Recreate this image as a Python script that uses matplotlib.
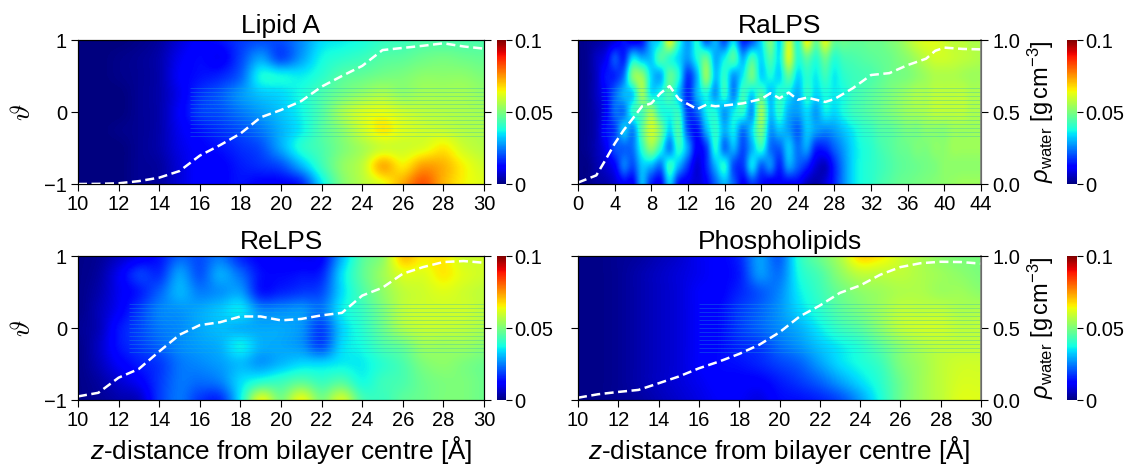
import matplotlib
matplotlib.use("Agg")
import matplotlib.pyplot as plt
import numpy as np

plt.rcParams['font.family'] = ['Liberation Sans', 'DejaVu Sans']
plt.rcParams['mathtext.fontset'] = 'custom'
plt.rcParams['mathtext.rm'] = 'Liberation Sans'
plt.rcParams['mathtext.it'] = 'Liberation Sans:italic'
plt.rcParams['mathtext.fallback'] = 'cm'

# water density maps (rows run theta = 1 down to -1 in steps of 0.25, one column per angstrom)
lipid_a = [
    [0, 0, 0, .001, .003, .008, .012, .014, .018, .020, .020, .026, .034, .036, .038, .041, .042, .044, .044, .044, .044],
    [0, 0, .001, .002, .004, .010, .013, .011, .019, .028, .020, .028, .037, .040, .042, .045, .046, .048, .049, .048, .047],
    [0, 0, .001, .002, .004, .011, .014, .016, .022, .037, .037, .036, .040, .045, .047, .049, .050, .052, .052, .052, .050],
    [0, 0, 0, .002, .004, .010, .017, .021, .027, .032, .034, .038, .044, .049, .053, .056, .053, .055, .055, .055, .053],
    [0, 0, 0, .002, .004, .011, .018, .020, .024, .028, .032, .037, .045, .055, .061, .063, .060, .058, .057, .056, .055],
    [0, 0, .001, .002, .004, .010, .014, .017, .020, .024, .030, .036, .045, .052, .060, .066, .062, .060, .059, .057, .056],
    [0, 0, 0, .002, .004, .009, .012, .014, .017, .020, .029, .039, .044, .050, .055, .060, .060, .062, .066, .060, .057],
    [0, 0, 0, .002, .003, .008, .012, .012, .015, .017, .020, .030, .042, .052, .058, .072, .066, .074, .072, .065, .060],
    [0, 0, 0, .002, .003, .008, .012, .012, .014, .012, .012, .016, .035, .050, .057, .063, .073, .082, .072, .065, .062],
]
ra_lps = [
    [.001, .002, .003, .005, .008, .014, .010, .014, .030, .036, .062, .040, .028, .038, .022, .030, .020, .034, .016, .020, .034, .050, .034, .060, .040, .064, .048, .062, .048, .048, .047, .047, .048, .048, .050, .052, .056, .060, .062, .062, .060, .058, .058, .056, .056],
    [.001, .002, .006, .010, .020, .016, .034, .030, .032, .044, .040, .034, .028, .038, .046, .030, .036, .044, .030, .042, .034, .044, .036, .060, .040, .046, .040, .048, .040, .043, .044, .045, .046, .047, .048, .050, .052, .055, .058, .060, .060, .059, .058, .057, .056],
    [.001, .002, .006, .014, .016, .024, .050, .052, .034, .030, .046, .038, .018, .030, .052, .032, .040, .028, .036, .048, .034, .038, .034, .046, .034, .040, .036, .042, .036, .040, .042, .043, .044, .046, .048, .049, .050, .052, .054, .056, .056, .056, .055, .054, .054],
    [.001, .002, .006, .012, .022, .030, .034, .054, .036, .038, .044, .032, .016, .030, .038, .028, .040, .026, .042, .034, .044, .032, .040, .036, .030, .040, .034, .038, .036, .038, .042, .044, .046, .048, .050, .052, .054, .056, .056, .058, .058, .058, .058, .056, .056],
    [.001, .002, .005, .011, .022, .024, .040, .044, .054, .040, .038, .040, .018, .022, .036, .038, .028, .036, .040, .028, .054, .032, .040, .030, .028, .034, .028, .036, .034, .038, .042, .044, .046, .048, .050, .052, .054, .055, .056, .058, .058, .058, .058, .056, .056],
    [.001, .002, .005, .013, .018, .032, .026, .046, .060, .050, .034, .044, .020, .014, .030, .040, .030, .036, .024, .034, .050, .028, .032, .028, .022, .032, .028, .026, .028, .032, .036, .040, .042, .045, .046, .048, .050, .050, .052, .052, .052, .054, .054, .054, .054],
    [.001, .002, .005, .010, .020, .022, .024, .040, .052, .040, .026, .040, .028, .012, .018, .038, .024, .030, .020, .030, .040, .024, .022, .032, .024, .028, .016, .016, .022, .028, .034, .038, .040, .043, .045, .047, .048, .050, .050, .052, .052, .054, .054, .054, .054],
    [.001, .001, .004, .007, .012, .024, .020, .032, .030, .024, .040, .030, .018, .008, .016, .030, .038, .020, .018, .034, .022, .026, .016, .028, .022, .016, .008, .006, .016, .026, .034, .038, .040, .042, .044, .046, .047, .048, .049, .050, .052, .052, .052, .052, .052],
    [.001, .001, .003, .004, .007, .012, .012, .030, .016, .012, .032, .014, .010, .008, .012, .022, .030, .022, .012, .018, .014, .010, .012, .012, .012, .006, .004, .008, .016, .026, .034, .038, .040, .043, .045, .047, .048, .049, .050, .051, .052, .053, .054, .054, .054],
]
re_lps = [
    [.001, .002, .006, .010, .014, .022, .020, .024, .016, .012, .012, .010, .012, .030, .045, .052, .070, .066, .066, .060, .060],
    [.001, .003, .010, .018, .017, .028, .021, .029, .023, .014, .013, .014, .016, .034, .046, .054, .062, .062, .066, .062, .060],
    [.001, .004, .010, .015, .022, .030, .025, .027, .028, .015, .016, .018, .020, .034, .044, .052, .058, .060, .062, .060, .058],
    [.001, .005, .011, .018, .025, .027, .029, .032, .035, .026, .026, .027, .024, .036, .042, .050, .058, .060, .060, .060, .058],
    [.002, .005, .014, .019, .024, .026, .029, .031, .030, .029, .029, .027, .019, .033, .040, .048, .056, .059, .059, .058, .056],
    [.001, .006, .014, .018, .022, .026, .028, .030, .036, .030, .029, .027, .020, .034, .038, .044, .048, .054, .054, .054, .052],
    [.001, .005, .011, .015, .018, .024, .026, .028, .031, .028, .031, .034, .034, .036, .036, .040, .044, .050, .052, .050, .048],
    [.001, .003, .007, .011, .018, .024, .023, .025, .034, .040, .042, .046, .042, .045, .038, .042, .044, .048, .050, .050, .048],
    [.001, .002, .004, .006, .018, .024, .018, .017, .036, .062, .050, .063, .050, .060, .044, .042, .046, .048, .050, .050, .048],
]
phospholipids = [
    [.001, .001, .002, .003, .005, .007, .010, .012, .016, .028, .022, .040, .048, .056, .068, .066, .060, .056, .052, .050, .050],
    [.001, .001, .002, .004, .006, .008, .010, .012, .015, .027, .024, .038, .044, .052, .058, .058, .058, .056, .054, .052, .050],
    [.001, .001, .002, .004, .006, .008, .011, .012, .016, .021, .026, .036, .042, .048, .052, .054, .056, .056, .054, .054, .052],
    [.001, .001, .002, .004, .006, .008, .011, .013, .018, .022, .027, .034, .040, .046, .050, .054, .058, .058, .058, .056, .056],
    [.001, .001, .002, .004, .006, .008, .011, .013, .018, .022, .026, .030, .036, .042, .046, .052, .058, .060, .060, .058, .058],
    [.001, .001, .002, .004, .006, .008, .011, .013, .016, .018, .023, .027, .032, .036, .040, .046, .052, .056, .058, .058, .058],
    [.001, .001, .002, .004, .006, .008, .011, .013, .014, .016, .019, .022, .028, .034, .038, .042, .050, .054, .058, .060, .060],
    [.001, .001, .002, .004, .006, .008, .010, .012, .012, .012, .015, .018, .022, .028, .034, .040, .048, .054, .058, .061, .061],
    [.001, .001, .002, .003, .005, .007, .009, .011, .011, .009, .013, .014, .016, .020, .028, .038, .048, .054, .058, .062, .062],
]

# dashed density profiles
z_short = list(range(10, 31))
lipid_a_rho = [0, .001, .005, .02, .044, .09, .197, .27, .35, .463, .514, .576, .676, .75, .82, .93, .945, .96, .977, .955, .94]
ra_z = [0, 2, 3, 4, 5, 6, 7, 8, 9, 10, 11, 12, 13, 14, 15, 16, 18, 20, 21, 22, 23, 24, 25, 26, 27, 28, 30, 32, 34, 36, 38, 39, 40, 42, 44]
ra_rho = [.01, .06, .167, .28, .375, .456, .54, .56, .63, .68, .59, .555, .52, .55, .54, .545, .56, .59, .63, .595, .635, .585, .60, .585, .57, .59, .665, .757, .77, .826, .87, .925, .947, .938, .935]
re_rho = [.025, .05, .155, .216, .337, .453, .52, .54, .58, .58, .553, .563, .588, .605, .725, .78, .877, .923, .958, .965, .953]
phospho_rho = [.016, .04, .056, .07, .116, .163, .22, .267, .32, .384, .47, .58, .656, .744, .795, .87, .923, .95, .96, .958, .947]

# faint rows of the original mesh around theta = 0
stripe_theta = [-.33, -.275, -.22, -.165, -.11, -.055, 0, .055, .11, .165, .22, .275, .33]

titles = ["Lipid A", "RaLPS", "ReLPS", "Phospholipids"]
grids = [lipid_a, ra_lps, re_lps, phospholipids]
line_z = [z_short, ra_z, z_short, z_short]
line_rho = [lipid_a_rho, ra_rho, re_rho, phospho_rho]
xlims = [(10, 30), (0, 44), (10, 30), (10, 30)]
xsteps = [2, 4, 2, 2]
stripe_start = [15.5, 2.5, 12.5, 16]

W, H = 1135, 466
# axes boxes in pixels: left, top, right, bottom
boxes = [(78, 40, 484, 184), (578, 40, 981, 184), (78, 256, 484, 400), (578, 256, 981, 400)]
cbars = [(497, 40, 506, 184), (1067, 40, 1077, 184), (497, 256, 506, 400), (1067, 256, 1077, 400)]
GREY = '#808080'


def to_rect(b):
    return [b[0] / W, 1 - b[3] / H, (b[2] - b[0]) / W, (b[3] - b[1]) / H]


fig = plt.figure(figsize=(W / 100, H / 100), dpi=100)

for i in range(4):
    right_col = i % 2 == 1
    ax = fig.add_axes(to_rect(boxes[i]))
    # half a cell of padding so the first and last values sit on the axes edges
    z0, z1 = xlims[i]
    img = ax.imshow(np.array(grids[i]), cmap='jet', vmin=0, vmax=0.1, aspect='auto',
                    interpolation='catrom', extent=(z0 - 0.5, z1 + 0.5, -1.125, 1.125))
    ax.hlines(stripe_theta, stripe_start[i], z1, color='#20b0d0', alpha=0.3, lw=0.7)
    ax.set_xlim(z0, z1)
    ax.set_ylim(-1, 1)
    ax.set_xticks(np.arange(z0, z1 + 1, xsteps[i]))
    ax.set_yticks([-1, 0, 1])
    ax.tick_params(labelsize=14.5, length=5, width=0.8, pad=3)
    ax.set_title(titles[i], fontsize=19, pad=5)
    if right_col:
        ax.set_yticklabels([])
    else:
        ax.set_ylabel(r'$\vartheta$', fontsize=20, labelpad=6, math_fontfamily='cm')
    if i >= 2:
        ax.set_xlabel(r'$z$-distance from bilayer centre [Å]', fontsize=18.8, labelpad=3)

    ax2 = ax.twinx()
    ax2.plot(line_z[i], line_rho[i], color='white', linestyle='--', lw=1.8, dashes=(3.6, 1.8))
    ax2.set_ylim(0, 1)
    ax2.set_yticks([0, 0.5, 1])
    ax2.tick_params(labelsize=14.5, length=5, width=0.8, pad=3)
    if right_col:
        ax2.set_yticklabels(['0.0', '0.5', '1.0'])
        ax2.spines['right'].set_color(GREY)
        ax2.spines['right'].set_linewidth(1.2)
        ax2.set_ylabel(r'$\rho_{\mathrm{water}}$ [g$\,$cm$^{-3}$]', fontsize=17, labelpad=4)
    else:
        ax2.set_yticklabels([])

    cax = fig.add_axes(to_rect(cbars[i]))
    cb = fig.colorbar(img, cax=cax)
    cb.set_ticks([0, 0.05, 0.1])
    cb.set_ticklabels(['0', '0.05', '0.1'])
    cb.ax.tick_params(labelsize=14.5, length=4, width=0.8, pad=2)
    cb.outline.set_linewidth(0)

fig.savefig('out.png', dpi=100)
